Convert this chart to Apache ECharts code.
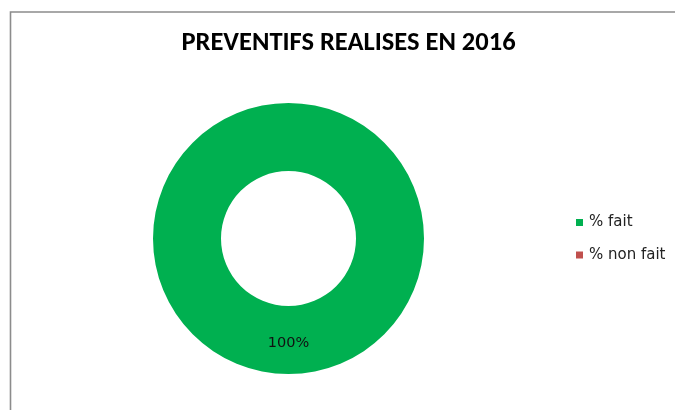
<!DOCTYPE html>
<html><head><meta charset="utf-8">
<script src="https://cdn.jsdelivr.net/npm/echarts@6/dist/echarts.min.js"></script>
<style>html,body{margin:0;padding:0;background:#fff}#c{width:675px;height:410px}</style>
</head><body><div id="c"></div>
<script>
const titleText = "PREVENTIFS REALISES EN 2016";
const categories = ["% fait", "% non fait"];
const values = [100, 0];
const colors = ["#00B050", "#C0504D"];

const chart = echarts.init(document.getElementById('c'), null, {renderer: 'canvas'});
chart.setOption({
  backgroundColor: '#fff',
  animation: false,
  graphic: [{
    type: 'rect', silent: true, z: -1,
    shape: {x: 10.5, y: 12, width: 700, height: 500},
    style: {fill: '#fff', stroke: '#8c8c8c', lineWidth: 1.6}
  }],
  title: {
    text: titleText,
    left: 343.5, top: 25, textAlign: 'center',
    textStyle: {fontFamily: 'Carlito, "Liberation Sans Narrow", sans-serif', fontWeight: 'bold', fontSize: 26.5, color: '#000'}
  },
  legend: {
    orient: 'vertical',
    left: 571, top: 210,
    itemWidth: 7, itemHeight: 7, itemGap: 17.5,
    icon: 'rect',
    data: categories,
    textStyle: {fontFamily: '"DejaVu Sans", sans-serif', fontSize: 15, color: '#222', padding: [0,0,0,1]}
  },
  series: [{
    type: 'pie',
    center: [288.5, 238.5],
    radius: [67.5, 135.5],
    startAngle: 90,
    clockwise: true,
    avoidLabelOverlap: false,
    stillShowZeroSum: true,
    label: {
      show: true, position: 'inside',
      formatter: p => p.value > 0 ? p.value + '%' : '',
      fontFamily: '"DejaVu Sans", sans-serif', fontSize: 14.5, color: '#111'
    },
    labelLine: {show: false},
    emphasis: {disabled: true},
    data: categories.map((c, i) => ({name: c, value: values[i], itemStyle: {color: colors[i]}}))
  }]
});
</script></body></html>
